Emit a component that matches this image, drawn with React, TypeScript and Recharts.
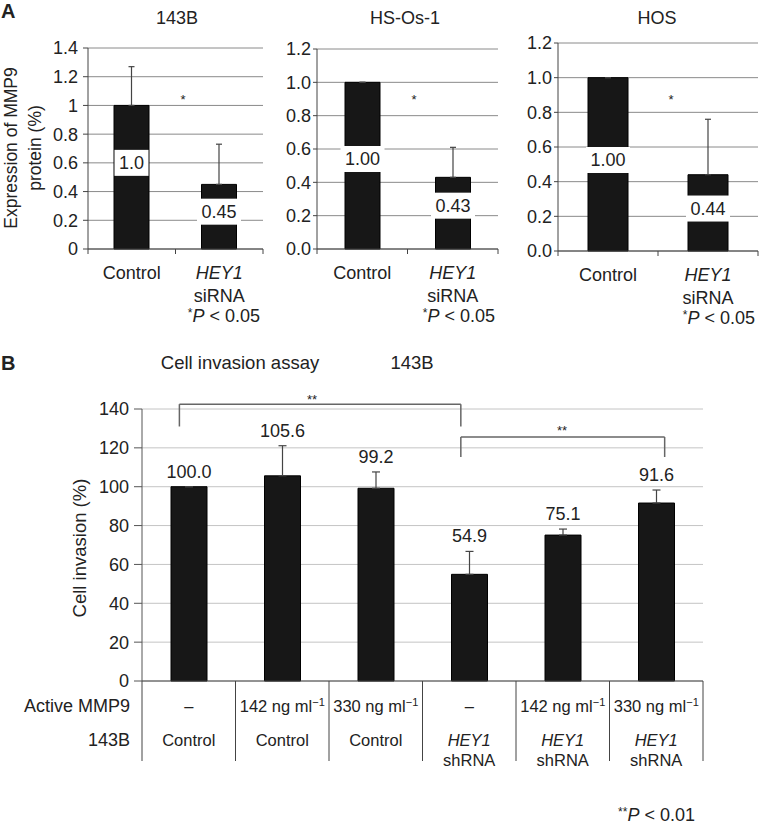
import React from 'react';
import {
  BarChart,
  Bar,
  XAxis,
  YAxis,
  CartesianGrid,
  ErrorBar,
  LabelList,
  ReferenceLine,
} from 'recharts';

// ---- Panel A: MMP9 protein expression ----
const groupsA = ['Control', 'HEY1 siRNA'];

const mmp9_143B = [1.0, 0.45];
const mmp9Err_143B = [0.27, 0.28];
const labels_143B = ['1.0', '0.45'];
const labelAt_143B = [0.6, 0.26];

const mmp9_HSOs1 = [1.0, 0.43];
const mmp9Err_HSOs1 = [0, 0.18];
const labels_HSOs1 = ['1.00', '0.43'];
const labelAt_HSOs1 = [0.54, 0.26];

const mmp9_HOS = [1.0, 0.44];
const mmp9Err_HOS = [0, 0.32];
const labels_HOS = ['1.00', '0.44'];
const labelAt_HOS = [0.525, 0.245];

const ticks14 = [0, 0.2, 0.4, 0.6, 0.8, 1, 1.2, 1.4];
const ticks12 = [0, 0.2, 0.4, 0.6, 0.8, 1.0, 1.2];

// ---- Panel B: cell invasion, 143B ----
const mmp9Dose = ['–', '142', '330', '–', '142', '330'];
const cells143B = ['Control', 'Control', 'Control', 'HEY1 shRNA', 'HEY1 shRNA', 'HEY1 shRNA'];
const invasion = [100.0, 105.6, 99.2, 54.9, 75.1, 91.6];
const invasionErr = [0, 15.5, 8.4, 11.8, 3.1, 6.7];
const ticksB = [0, 20, 40, 60, 80, 100, 120, 140];

const FONT = '"Liberation Sans", Arial, Helvetica, sans-serif';
const INK = '#222';
const BAR_FILL = '#171717';
const FS = 18;

// brackets drawn against a hidden 0..6 axis spanning the plot
const brackets = [
  { from: 0.4, to: 3.41, low: 131, top: 142.5 },
  { from: 3.41, to: 5.59, low: 115.3, top: 125.6 },
];

const textW = (s: string) =>
  s.split('').reduce((w, c) => w + (c === '.' ? 5 : 10), 0);

const GroupLabel = ({ x, y, text, dy2, fs }: any) => {
  const parts = text.split(' ');
  if (parts.length === 1) {
    return (
      <text x={x} y={y} textAnchor="middle" fontSize={fs} fill={INK} fontFamily={FONT}>
        {text}
      </text>
    );
  }
  return (
    <g fontFamily={FONT} fontSize={fs} fill={INK}>
      <text x={x} y={y} textAnchor="middle" fontStyle="italic">{parts[0]}</text>
      <text x={x} y={y + dy2} textAnchor="middle">{parts[1]}</text>
    </g>
  );
};

const makeTickA = (half: number) => (p: any) => {
  const { x, y, index } = p;
  const last = index === groupsA.length - 1;
  return (
    <g>
      <line x1={x - half} y1={y} x2={x - half} y2={y + 5} stroke="#444" />
      {last && <line x1={x + half} y1={y} x2={x + half} y2={y + 5} stroke="#444" />}
      <GroupLabel x={x} y={y + 29.5} text={groupsA[index]} dy2={23} fs={FS} />
      {last && (
        <text x={x + half - 3} y={y + 73} textAnchor="end" fontSize={FS} fill={INK} fontFamily={FONT}>
          <tspan fontSize={12} dy={-5}>*</tspan>
          <tspan fontStyle="italic" dy={5}>P</tspan>
          <tspan> &lt; 0.05</tspan>
        </text>
      )}
    </g>
  );
};

const boxLabel = (rows: any[]) => (p: any) => {
  const { x, y, width, height, index } = p;
  const r = rows[index];
  const cx = Number(x) + Number(width) / 2;
  const cy = Number(y) + Number(height) * (1 - r.at / r.value);
  const w = textW(r.label) + 9;
  return (
    <g>
      <rect x={cx - w / 2} y={cy - 13} width={w} height={26} fill="#fff" />
      <text x={cx} y={cy} dy="0.36em" textAnchor="middle" fontSize={FS} fill={INK} fontFamily={FONT}>
        {r.label}
      </text>
    </g>
  );
};

interface MiniProps {
  values: number[];
  errs: number[];
  labels: string[];
  labelAt: number[];
  ticks: number[];
  fmt: (v: number) => string;
  left: number;
  width: number;
  margin: { top: number; right: number; left: number; bottom: number };
  barSize: number;
  tickSize: number;
  tickMargin: number;
}

const MiniChart: React.FC<MiniProps> = (props) => {
  const { values, errs, labels, labelAt, ticks, fmt, left, width, margin, barSize } = props;
  const rows = groupsA.map((g, i) => ({
    group: g,
    value: values[i],
    err: [0, errs[i]],
    label: labels[i],
    at: labelAt[i],
  }));
  const yw = 30;
  const half = (width - margin.left - margin.right - yw) / groupsA.length / 2;
  return (
    <div style={{ position: 'absolute', left, top: 0 }}>
      <BarChart width={width} height={330} data={rows} margin={margin}>
        <CartesianGrid vertical={false} stroke="#8a8a8a" />
        <XAxis
          dataKey="group"
          interval={0}
          tickLine={false}
          tickSize={0}
          tickMargin={0}
          height={70}
          axisLine={{ stroke: '#444' }}
          tick={makeTickA(half)}
        />
        <YAxis
          width={yw}
          domain={[ticks[0], ticks[ticks.length - 1]]}
          ticks={ticks}
          interval={0}
          tickFormatter={fmt}
          tickSize={props.tickSize}
          tickMargin={props.tickMargin}
          axisLine={{ stroke: '#444' }}
          tickLine={{ stroke: '#444' }}
          tick={{ fontSize: FS, fill: INK, fontFamily: FONT }}
        />
        <Bar dataKey="value" fill={BAR_FILL} stroke="#000" barSize={barSize} isAnimationActive={false}>
          <ErrorBar dataKey="err" width={3} stroke="#444" strokeWidth={1.2} direction="y" />
          <LabelList dataKey="value" content={boxLabel(rows)} />
        </Bar>
      </BarChart>
    </div>
  );
};

const TableTick = (p: any) => {
  const { x, y, index } = p;
  const half = 561 / invasion.length / 2;
  const leftX = x - half;
  const dose = mmp9Dose[index];
  return (
    <g fontFamily={FONT} fill={INK}>
      <line x1={leftX} y1={y} x2={leftX} y2={y + 80} stroke="#444" />
      {index === invasion.length - 1 && (
        <line x1={x + half} y1={y} x2={x + half} y2={y + 80} stroke="#444" />
      )}
      {index === 0 && (
        <g fontSize={FS} textAnchor="end">
          <text x={leftX - 12} y={y + 31}>Active MMP9</text>
          <text x={leftX - 12} y={y + 65}>143B</text>
        </g>
      )}
      {dose === '–' ? (
        <text x={x} y={y + 31} textAnchor="middle" fontSize={16.5}>–</text>
      ) : (
        <text x={x} y={y + 31} textAnchor="middle" fontSize={16.5}>
          {dose} ng ml<tspan fontSize={11} dy={-6}>−1</tspan>
        </text>
      )}
      <GroupLabel x={x} y={y + 65} text={cells143B[index]} dy2={20} fs={16.5} />
    </g>
  );
};

const invasionLabel = (p: any) => {
  const { x, y, width, height, index } = p;
  const top = Number(y) - (Number(height) * invasionErr[index]) / invasion[index];
  return (
    <text x={Number(x) + Number(width) / 2} y={top - 9} textAnchor="middle" fontSize={FS} fill={INK} fontFamily={FONT}>
      {invasion[index].toFixed(1)}
    </text>
  );
};

const PanelB = () => {
  const rows = invasion.map((v, i) => ({ key: `c${i}`, pos: i + 0.5, value: v, err: [0, invasionErr[i]] }));
  const seg = { stroke: '#666', strokeWidth: 1.5, ifOverflow: 'visible' as const, xAxisId: 'pos' };
  return (
    <div style={{ position: 'absolute', left: 0, top: 330 }}>
      <BarChart width={759} height={494} data={rows} margin={{ top: 79, right: 56, left: 92, bottom: 13 }}>
        <CartesianGrid vertical={false} stroke="#c4c4c4" />
        <XAxis
          dataKey="key"
          interval={0}
          tickLine={false}
          tickSize={0}
          tickMargin={0}
          height={130}
          axisLine={{ stroke: '#444' }}
          tick={TableTick}
        />
        <XAxis xAxisId="pos" dataKey="pos" type="number" domain={[0, invasion.length]} allowDataOverflow hide />
        <YAxis
          width={50}
          domain={[0, 140]}
          ticks={ticksB}
          interval={0}
          tickSize={8}
          tickMargin={5}
          axisLine={{ stroke: '#555' }}
          tickLine={{ stroke: '#555' }}
          tick={{ fontSize: FS, fill: INK, fontFamily: FONT }}
        />
        <Bar dataKey="value" fill={BAR_FILL} stroke="#000" barSize={36} isAnimationActive={false}>
          <ErrorBar dataKey="err" width={4} stroke="#444" strokeWidth={1.2} direction="y" />
          <LabelList dataKey="value" content={invasionLabel} />
        </Bar>
        {brackets.map((b, i) => (
          <React.Fragment key={i}>
            <ReferenceLine {...seg} segment={[{ x: b.from, y: b.low }, { x: b.from, y: b.top }]} />
            <ReferenceLine {...seg} segment={[{ x: b.from, y: b.top }, { x: b.to, y: b.top }]} />
            <ReferenceLine {...seg} segment={[{ x: b.to, y: b.top }, { x: b.to, y: b.low }]} />
          </React.Fragment>
        ))}
      </BarChart>
    </div>
  );
};

const Overlay = () => (
  <svg
    width={759}
    height={824}
    style={{ position: 'absolute', left: 0, top: 0, pointerEvents: 'none' }}
    fontFamily={FONT}
    fill={INK}
  >
    <text x={1} y={18} fontSize={20} fontWeight="bold">A</text>
    <g fontSize={FS} textAnchor="middle">
      <text x={177} y={24}>143B</text>
      <text x={405} y={24}>HS-Os-1</text>
      <text x={657} y={24}>HOS</text>
    </g>
    <g fontSize={17.5} textAnchor="middle">
      <text x={11} y={148} dy="0.35em" transform="rotate(-90 11 148)">Expression of MMP9</text>
      <text x={35} y={148} dy="0.35em" transform="rotate(-90 35 148)">protein (%)</text>
    </g>
    <g fontSize={13} textAnchor="middle">
      <text x={183} y={104}>*</text>
      <text x={414} y={104}>*</text>
      <text x={671} y={104}>*</text>
    </g>

    <text x={1} y={370} fontSize={20} fontWeight="bold">B</text>
    <text x={240} y={369} fontSize={18.5} textAnchor="middle">Cell invasion assay</text>
    <text x={412} y={369} fontSize={18.5} textAnchor="middle">143B</text>
    <text x={80} y={548} dy="0.35em" fontSize={18.5} textAnchor="middle" transform="rotate(-90 80 548)">
      Cell invasion (%)
    </text>
    <g fontSize={13} textAnchor="middle">
      <text x={312} y={404}>**</text>
      <text x={562} y={435}>**</text>
    </g>
    <text x={695} y={821} fontSize={FS} textAnchor="end">
      <tspan fontSize={12} dy={-5}>**</tspan>
      <tspan fontStyle="italic" dy={5}>P</tspan>
      <tspan> &lt; 0.01</tspan>
    </text>
  </svg>
);

const fmt14 = (v: number) => String(Math.round(v * 10) / 10);
const fmt12 = (v: number) => v.toFixed(1);

export default function App() {
  return (
    <div style={{ position: 'absolute', left: 0, top: 0, width: 759, height: 824, background: '#fff' }}>
      <MiniChart
        values={mmp9_143B}
        errs={mmp9Err_143B}
        labels={labels_143B}
        labelAt={labelAt_143B}
        ticks={ticks14}
        fmt={fmt14}
        left={0}
        width={270}
        margin={{ top: 48, right: 7, left: 58, bottom: 11 }}
        barSize={35}
        tickSize={5}
        tickMargin={5}
      />
      <MiniChart
        values={mmp9_HSOs1}
        errs={mmp9Err_HSOs1}
        labels={labels_HSOs1}
        labelAt={labelAt_HSOs1}
        ticks={ticks12}
        fmt={fmt12}
        left={270}
        width={235}
        margin={{ top: 49, right: 7, left: 17, bottom: 11 }}
        barSize={35}
        tickSize={4}
        tickMargin={2}
      />
      <MiniChart
        values={mmp9_HOS}
        errs={mmp9Err_HOS}
        labels={labels_HOS}
        labelAt={labelAt_HOS}
        ticks={ticks12}
        fmt={fmt12}
        left={505}
        width={254}
        margin={{ top: 43, right: 1, left: 23, bottom: 9 }}
        barSize={40}
        tickSize={4}
        tickMargin={2}
      />
      <PanelB />
      <Overlay />
    </div>
  );
}
